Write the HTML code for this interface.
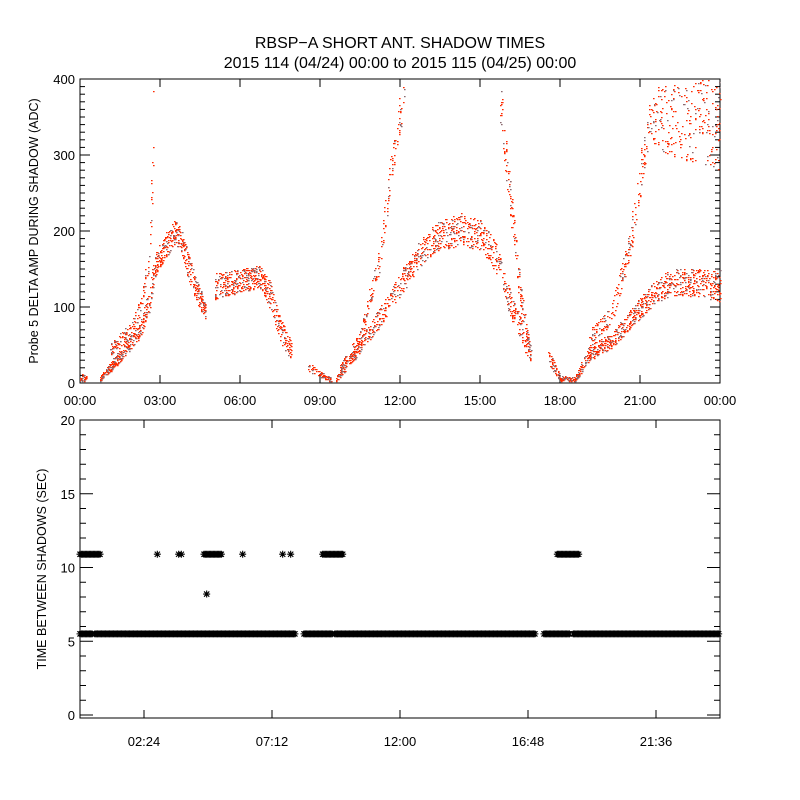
<!DOCTYPE html>
<html><head><meta charset="utf-8">
<style>
html,body{margin:0;padding:0;background:#fff}
svg{display:block;font-family:"Liberation Sans","DejaVu Sans",sans-serif}
</style></head>
<body>
<svg id="chart" width="800" height="800" viewBox="0 0 800 800">
<rect x="0" y="0" width="800" height="800" fill="#fff"/>
<text x="400" y="48" font-size="16" text-anchor="middle">RBSP−A SHORT ANT. SHADOW TIMES</text>
<text x="400" y="68" font-size="16" text-anchor="middle">2015 114 (04/24) 00:00 to 2015 115 (04/25) 00:00</text>
<g id="topPanel"></g>
<g id="botPanel"></g>
</svg>
<script>
// ---------- data ----------
// top panel envelope samples: [hour, lowValue, highValue]
const lowerBand1 = [[0.0,3,12],[0.25,3,10]];
const lowerBand2 = [[0.75,2,8],[1.5,28,45],[2.25,60,80],[2.6,95,125],[2.8,140,170],[3.2,165,200],[3.55,180,215],[3.75,175,205],[4.1,130,165],[4.5,95,125],[4.7,85,105]];
const lowerBand3 = [[5.05,110,145],[6.0,120,150],[6.75,125,155],[7.1,100,135],[7.5,55,85],[7.9,30,55]];
const upperBand1 = [[1.1,35,50],[1.9,60,80],[2.25,90,110],[2.6,150,180],[2.7,240,300],[2.75,300,400]];
const gapBand = [[8.55,15,28],[9.0,8,15],[9.4,2,8]];
const lowerBand4 = [[9.6,2,8],[10.5,40,60],[11.25,75,100],[12.0,115,145],[12.75,155,190],[13.5,175,215],[14.25,180,225],[15.0,175,215],[15.6,145,185],[16.1,90,125],[16.9,25,50]];
const upperBand2 = [[9.75,15,25],[10.5,50,70],[11.25,150,185],[11.6,250,290],[12.0,330,380],[12.2,380,400]];
const upperBand3 = [[15.75,340,400],[16.1,230,280],[16.5,100,140],[16.9,20,40]];
const lowerBand5 = [[17.55,25,45],[18.0,3,10],[18.55,2,8],[19.1,30,50],[19.9,45,65],[20.6,70,95],[21.4,100,130],[22.1,115,150],[23.25,115,150],[24.0,105,150]];
const upperBand4 = [[19.1,50,70],[19.9,75,100],[20.6,160,200],[21.0,250,300],[21.4,320,380],[22.0,300,400],[23.0,290,400],[24.0,280,400]];
const topBands = [lowerBand1,lowerBand2,lowerBand3,upperBand1,gapBand,lowerBand4,upperBand2,upperBand3,lowerBand5,upperBand4];
const topDensity = [30,700,500,150,70,900,200,150,900,450];
const topTicks = ["00:00","03:00","06:00","09:00","12:00","15:00","18:00","21:00","00:00"];
const topYTicks = [0,100,200,300,400];
// bottom panel: time-between-shadows segments [startHour, endHour, seconds]
const shadowSegments = [[0,0.45,5.5],[0.56,8.1,5.5],[8.4,9.5,5.5],[9.56,17.1,5.5],[17.4,18.4,5.5],[18.5,24,5.5],
  [0,0.8,10.9],[4.65,5.3,10.9],[9.1,9.9,10.9],[17.9,18.75,10.9]];
const shadowSingles = [[2.9,10.9],[3.7,10.9],[3.8,10.9],[6.1,10.9],[7.6,10.9],[7.9,10.9],[4.75,8.2]];
const botTicks = ["02:24","07:12","12:00","16:48","21:36"];
const botTickHours = [2.4,7.2,12,16.8,21.6];
const botYTicks = [0,5,10,15,20];

// ---------- axes ----------
const X0=80,X1=720;
const xs = h => X0 + h/24*(X1-X0);
const yTop = v => 383 - v*0.76;
const yBot = v => 715 - v*14.75;
const NS="http://www.w3.org/2000/svg";
function mk(tag,attrs,parent){const e=document.createElementNS(NS,tag);for(const k in attrs)e.setAttribute(k,attrs[k]);parent.appendChild(e);return e;}
const topG=document.getElementById('topPanel'), botG=document.getElementById('botPanel');

let f=mk('rect',{x:80,y:79,width:640,height:304,fill:'none',stroke:'#000','stroke-width':1},topG);


topTicks.forEach((t,i)=>{const x=xs(i*3);
  mk('line',{x1:x,y1:383,x2:x,y2:375,stroke:'#000'},topG);mk('line',{x1:x,y1:79,x2:x,y2:87,stroke:'#000'},topG);
  const tx=mk('text',{x:x,y:405,'font-size':13,'text-anchor':'middle'},topG);tx.textContent=t;
  
  
});
for(let v=0;v<=400;v+=10){const y=yTop(v);const L=(v%100===0)?10:5;
  mk('line',{x1:80,y1:y,x2:80+L,y2:y,stroke:'#000'},topG);mk('line',{x1:720,y1:y,x2:720-L,y2:y,stroke:'#000'},topG);}
topYTicks.forEach(v=>{const tx=mk('text',{x:75,y:yTop(v)+5,'font-size':13,'text-anchor':'end'},topG);tx.textContent=v;
  
  });
let yt=mk('text',{x:0,y:0,'font-size':12.5,'text-anchor':'middle',transform:'translate(38,231) rotate(-90)'},topG);
yt.textContent='Probe 5 DELTA AMP DURING SHADOW (ADC)';



// deterministic hash for spreading dots inside each band
function hash(n){const s=Math.sin(n*12.9898+78.233)*43758.5453;return s-Math.floor(s);}
let dRed='', dGray='';
topBands.forEach((band,bi)=>{
  const n=topDensity[bi];
  const t0=band[0][0], t1=band[band.length-1][0];
  for(let k=0;k<n;k++){
    const u=hash(k*3.1+bi*101.7), w=hash(k*7.3+bi*53.1+0.5);
    const t=t0+(t1-t0)*u;
    let j=0; while(j<band.length-2 && band[j+1][0]<t) j++;
    const a=band[j], b=band[j+1]||a; const r=b[0]>a[0]?(t-a[0])/(b[0]-a[0]):0;
    const lo=a[1]+(b[1]-a[1])*r, hi=a[2]+(b[2]-a[2])*r;
    const v=lo+(hi-lo)*w;
    const px=Math.round(xs(t)), py=Math.round(yTop(v));
    if(py<80) continue;
    const s=`M${px} ${py}h1.6v1.3h-1.6z`;
    if(k%5===2) dGray+=s; else dRed+=s;
  }
});
let pr=mk('path',{d:dRed,fill:'#ff2a00'},topG);


let pg=mk('path',{d:dGray,fill:'#8a6a70'},topG);



f=mk('rect',{x:80,y:420,width:640,height:298,fill:'none',stroke:'#000'},botG);


botTicks.forEach((t,i)=>{const x=xs(botTickHours[i]);
  mk('line',{x1:x,y1:718,x2:x,y2:710,stroke:'#000'},botG);mk('line',{x1:x,y1:420,x2:x,y2:428,stroke:'#000'},botG);
  const tx=mk('text',{x:x,y:746,'font-size':13,'text-anchor':'middle'},botG);tx.textContent=t;
  
  });
for(let v=0;v<=20;v+=1){const y=yBot(v);const L=(v%5===0)?13:6;
  mk('line',{x1:80,y1:y,x2:80+L,y2:y,stroke:'#000'},botG);mk('line',{x1:720,y1:y,x2:720-L,y2:y,stroke:'#000'},botG);}
botYTicks.forEach(v=>{const tx=mk('text',{x:75,y:yBot(v)+5,'font-size':13,'text-anchor':'end'},botG);tx.textContent=v;
  
  });
yt=mk('text',{x:0,y:0,'font-size':12.5,'text-anchor':'middle',transform:'translate(46,569) rotate(-90)'},botG);
yt.textContent='TIME BETWEEN SHADOWS (SEC)';



function star(x,y){const r=3.5;return `M${x-r} ${y}h${2*r}M${x} ${y-r}v${2*r}M${x-r*0.75} ${y-r*0.75}l${1.5*r} ${1.5*r}M${x-r*0.75} ${y+r*0.75}l${1.5*r} ${-1.5*r}`;}
let ds='';
shadowSegments.forEach(s=>{for(let h=s[0];h<=s[1];h+=0.05){ds+=star(xs(h),yBot(s[2]));}});
shadowSingles.forEach(p=>{ds+=star(xs(p[0]),yBot(p[1]));});
let sp=mk('path',{d:ds,stroke:'#000','stroke-width':1.1,fill:'none'},botG);


</script>
</body></html>
